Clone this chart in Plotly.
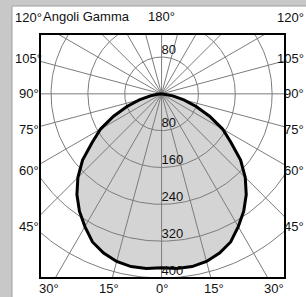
import numpy as np
import plotly.graph_objects as go

# Luminous intensity (cd) vs gamma angle (deg), symmetric curve
gamma_deg = [0, 5, 10, 15, 20, 25, 30, 35, 40, 45, 50, 55, 60, 65, 70, 75, 80, 85, 90]
intensity = [378, 381, 381, 377, 368, 355, 333, 311, 286, 257, 224, 184, 153, 115, 80, 50, 25, 9, 0]

ring_values = [80, 160, 240, 320, 400]
ring_labels_down = ["80", "160", "240", "320", "400"]
ring_labels_up = ["80"]
spoke_step = 15
side_angles = [120, 105, 90, 75, 60, 45]
bottom_angles = [-30, -15, 0, 15, 30]
title_text = "Angoli Gamma"

XR = [-264, 268]
YR = [-400, 130]
PX = 244 / (YR[1] - YR[0])  # px per unit


def px_x(x):
    return (x - XR[0]) / (XR[1] - XR[0])


def px_y(y):
    return (y - YR[0]) / (YR[1] - YR[0])


fig = go.Figure()

# full closed curve
g_full = np.array([-g for g in gamma_deg[::-1]] + gamma_deg[1:], dtype=float)
i_full = np.array(intensity[::-1] + intensity[1:], dtype=float)
gr = np.radians(g_full)
cx = i_full * np.sin(gr)
cy = -i_full * np.cos(gr)

fig.add_trace(go.Scatter(x=cx, y=cy, mode="lines", fill="toself",
                         fillcolor="#d4d4d4", line=dict(width=0, color="rgba(0,0,0,0)"),
                         hoverinfo="skip", showlegend=False))

# grid circles
t = np.linspace(0, 2 * np.pi, 361)
for r in ring_values:
    fig.add_trace(go.Scatter(x=r * np.cos(t), y=r * np.sin(t), mode="lines",
                             line=dict(color="#7c7c7c", width=1),
                             hoverinfo="skip", showlegend=False))
# spokes
for a in range(0, 360, spoke_step):
    ar = np.radians(a)
    fig.add_trace(go.Scatter(x=[0, 1200 * np.sin(ar)], y=[0, -1200 * np.cos(ar)], mode="lines",
                             line=dict(color="#7c7c7c", width=1),
                             hoverinfo="skip", showlegend=False))

# curve outline
fig.add_trace(go.Scatter(x=cx, y=cy, mode="lines", line=dict(color="black", width=3),
                         hoverinfo="skip", showlegend=False))

tfont = dict(family="Liberation Sans, Arial", size=13, color="#111")
# ring value labels
fig.add_trace(go.Scatter(x=[0] * len(ring_values), y=[-r for r in ring_values],
                         mode="text", text=ring_labels_down, textposition="top right",
                         textfont=tfont, cliponaxis=True, hoverinfo="skip", showlegend=False))
fig.add_trace(go.Scatter(x=[0], y=[ring_values[0]], mode="text", text=ring_labels_up,
                         textposition="top right", textfont=tfont,
                         cliponaxis=True, hoverinfo="skip", showlegend=False))

ann = []
D = 133 / PX
right_edge = px_x(XR[1] + 20.5 / PX)  # just inside the right border of the figure
for g in side_angles:
    y = -D / np.tan(np.radians(g))
    ann.append(dict(x=px_x(-D), y=px_y(y), xref="paper", yref="paper", text=f"{g}°",
                    showarrow=False, font=tfont, xanchor="center", yanchor="middle"))
    ann.append(dict(x=right_edge, y=px_y(y), xref="paper", yref="paper", text=f"{g}°",
                    showarrow=False, font=tfont, xanchor="right", yanchor="middle"))
Db = 195 / PX
for g in bottom_angles:
    ann.append(dict(x=px_x(Db * np.tan(np.radians(g))), y=px_y(-Db), xref="paper", yref="paper",
                    text=f"{abs(g)}°", showarrow=False, font=tfont,
                    xanchor="center", yanchor="middle"))
Dt = 77 / PX
ann.append(dict(x=px_x(0), y=px_y(Dt), xref="paper", yref="paper", text="180°", showarrow=False,
                font=tfont, xanchor="center", yanchor="middle"))
ann.append(dict(x=px_x(XR[0] + 1 / PX), y=px_y(Dt), xref="paper", yref="paper", text=title_text,
                showarrow=False, font=tfont, xanchor="left", yanchor="middle"))

shapes = [
    dict(type="rect", xref="paper", yref="paper", x0=(12 - 40) / 245, x1=1.3,
         y0=-0.2, y1=(278 - 6) / 244, fillcolor="white", line=dict(color="#a0a0a0", width=1),
         layer="below"),
    dict(type="rect", xref="paper", yref="paper", x0=0, x1=1, y0=0, y1=1,
         line=dict(color="black", width=2), layer="above"),
]

fig.update_layout(
    width=306, height=297,
    margin=dict(l=40, r=21, t=34, b=19),
    paper_bgcolor="#c8c8c8", plot_bgcolor="white",
    xaxis=dict(range=XR, visible=False, showgrid=False, zeroline=False, fixedrange=True),
    yaxis=dict(range=YR, visible=False, showgrid=False, zeroline=False, fixedrange=True),
    annotations=ann, shapes=shapes, showlegend=False,
)
fig.write_html("out.html", config={"displayModeBar": False},
               post_script="document.body.style.margin='0';document.body.style.overflow='hidden';")
